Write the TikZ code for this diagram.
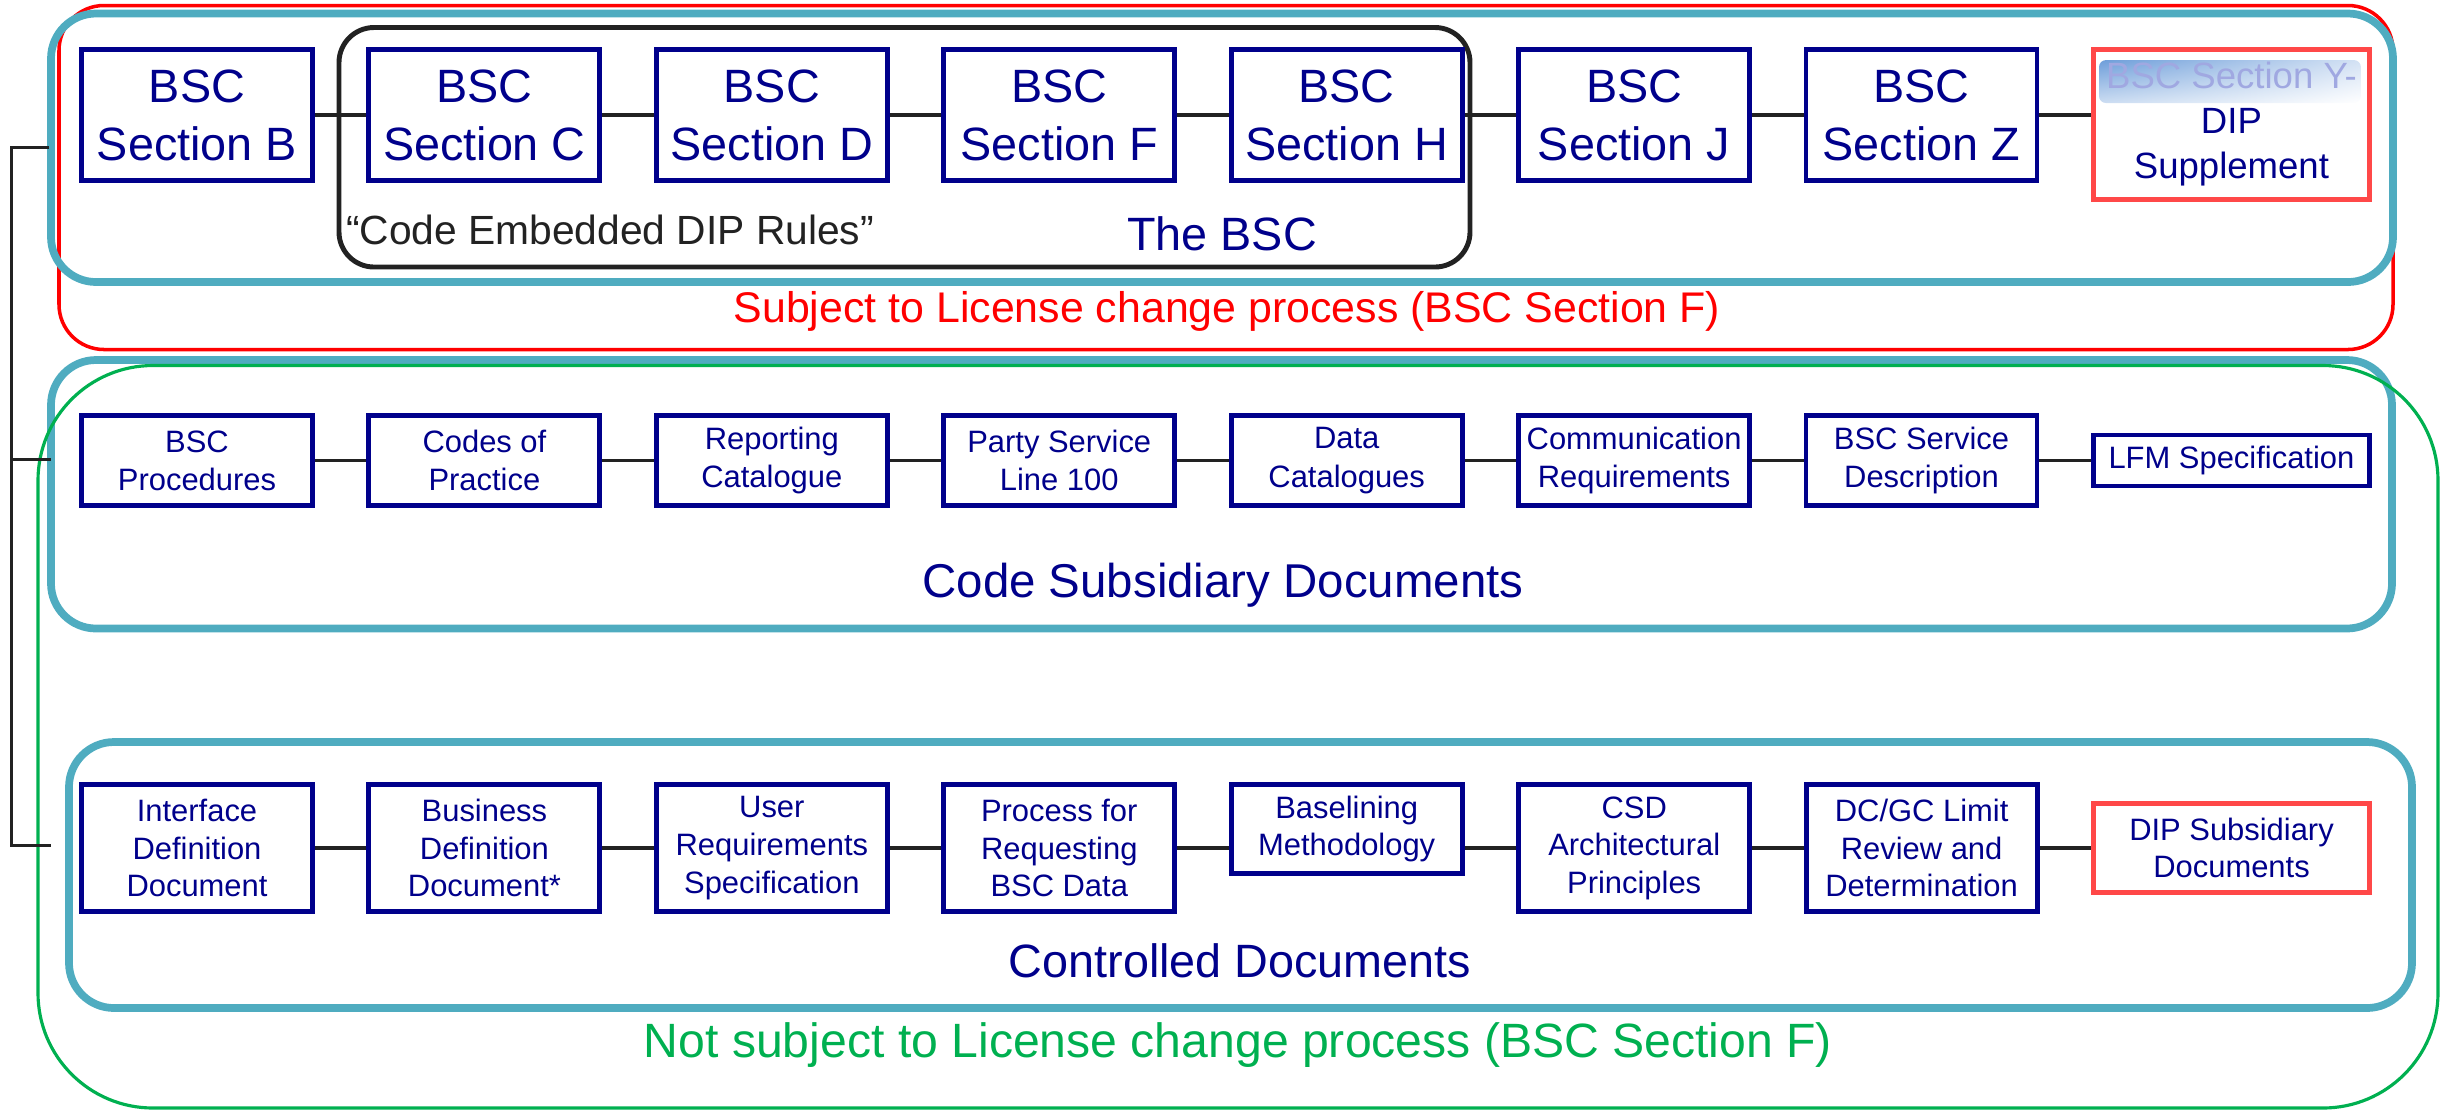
\documentclass[tikz,border=0pt]{standalone}
\usepackage{fontspec}
\setmainfont{Liberation Sans}
\usepackage{xcolor}
\usepackage{tikz}
\usetikzlibrary{positioning,backgrounds,shadings}

\definecolor{navy}{RGB}{0,0,139}
\definecolor{tealframe}{RGB}{79,172,192}
\definecolor{dipred}{RGB}{255,72,72}
\definecolor{okgreen}{RGB}{0,176,80}
\definecolor{darkline}{RGB}{34,34,34}
\definecolor{hiblue}{RGB}{110,158,218}
\definecolor{paleblue}{RGB}{160,168,225}

\begin{document}
\begin{tikzpicture}[
    docbox/.style={draw=navy, line width=1.4pt, text=navy, align=center,
        inner sep=0pt, minimum width=2.31cm},
    secbox/.style={docbox, minimum height=1.31cm, font=\fontsize{13.3}{16.5}\selectfont},
    csdbox/.style={docbox, minimum height=0.90cm, font=\fontsize{8.8}{10.9}\selectfont},
    ctrlbox/.style={docbox, minimum height=1.27cm, font=\fontsize{8.8}{10.7}\selectfont},
    dipbox/.style={draw=dipred, minimum width=2.76cm},
    link/.style={draw=darkline, line width=1.1pt},
    group/.style={draw=tealframe, line width=2.2pt, rounded corners=0.45cm},
    grouplabel/.style={text=navy, anchor=base, font=\fontsize{13.5}{16}\selectfont}
]

\useasboundingbox (0,0) rectangle (24.47,-11.10);

% ===========================
% TOP: the BSC sections
% ===========================

% Frames
\draw[draw=red, line width=1pt, rounded corners=0.45cm] (0.59,-0.055) rectangle (23.93,-3.495);
\draw[group] (0.51,-0.135) rectangle (23.93,-2.82);
\draw[draw=darkline, line width=1.4pt, rounded corners=0.35cm] (3.39,-0.275) rectangle (14.70,-2.67);

% Sections
\node[secbox] (secB) at (1.97,-1.15) {BSC\\Section B};
\node[secbox, right=0.515cm of secB] (secC) {BSC\\Section C};
\node[secbox, right=0.515cm of secC] (secD) {BSC\\Section D};
\node[secbox, right=0.515cm of secD] (secF) {BSC\\Section F};
\node[secbox, right=0.515cm of secF] (secH) {BSC\\Section H};
\node[secbox, right=0.515cm of secH] (secJ) {BSC\\Section J};
\node[secbox, right=0.515cm of secJ] (secZ) {BSC\\Section Z};
\node[secbox, dipbox, minimum height=1.50cm, font=\fontsize{10.4}{12.8}\selectfont,
      right=0.515cm of secZ.north east, anchor=north west] (secY)
      {\textcolor{paleblue}{BSC Section Y-}\\DIP\\Supplement};

% Connectors
\draw[link] (secB) -- (secC);
\draw[link] (secC) -- (secD);
\draw[link] (secD) -- (secF);
\draw[link] (secF) -- (secH);
\draw[link] (secH) -- (secJ);
\draw[link] (secJ) -- (secZ);
\draw[link] (secZ) -- (secZ -| secY.west);

% Highlight behind Section Y
\begin{scope}[on background layer]
    \shade[upper left=hiblue, upper right=hiblue!30, lower left=hiblue!35, lower right=white,
           rounded corners=2pt]
        ([shift={(0.08,-0.13)}]secY.north west) rectangle ([shift={(-0.11,-0.56)}]secY.north east);
\end{scope}

% Labels
\node[text=darkline, anchor=base, font=\fontsize{11.6}{14}\selectfont] (embedded) at (6.10,-2.44) {“Code Embedded DIP Rules”};
\node[grouplabel, font=\fontsize{13.3}{16}\selectfont] (thebsc) at (12.22,-2.50) {The BSC};
\node[text=red, anchor=base, font=\fontsize{12.2}{15}\selectfont] (subject) at (12.27,-3.22) {Subject to License change process (BSC Section F)};

% ===========================
% MIDDLE: Code Subsidiary Documents
% ===========================

\draw[group] (0.51,-3.60) rectangle (23.92,-6.285);

\node[csdbox] (proc) at (1.97,-4.605) {BSC\\Procedures};
\node[csdbox, right=0.515cm of proc] (cop) {Codes of\\Practice};
\node[csdbox, right=0.515cm of cop] (repcat) {Reporting\\Catalogue};
\node[csdbox, right=0.515cm of repcat] (psl) {Party Service\\Line 100};
\node[csdbox, right=0.515cm of psl] (datacat) {Data\\Catalogues};
\node[csdbox, right=0.515cm of datacat] (commreq) {Communication\\Requirements};
\node[csdbox, right=0.515cm of commreq] (bsd) {BSC Service\\Description};
\node[csdbox, minimum width=2.76cm, minimum height=0.51cm, right=0.515cm of bsd] (lfm) {LFM Specification};

\draw[link] (proc) -- (cop);
\draw[link] (cop) -- (repcat);
\draw[link] (repcat) -- (psl);
\draw[link] (psl) -- (datacat);
\draw[link] (datacat) -- (commreq);
\draw[link] (commreq) -- (bsd);
\draw[link] (bsd) -- (lfm);

\node[grouplabel] (csdlabel) at (12.23,-5.97) {Code Subsidiary Documents};

% ===========================
% BOTTOM: Controlled Documents
% ===========================

\draw[group] (0.69,-7.42) rectangle (24.12,-10.08);

\node[ctrlbox] (idd) at (1.97,-8.48) {Interface\\Definition\\Document};
\node[ctrlbox, right=0.515cm of idd] (bdd) {Business\\Definition\\Document*};
\node[ctrlbox, right=0.515cm of bdd] (urs) {User\\Requirements\\Specification};
\node[ctrlbox, right=0.515cm of urs] (prbd) {Process for\\Requesting\\BSC Data};
\node[ctrlbox, minimum height=0.89cm, right=0.515cm of prbd.north east, anchor=north west] (base) {Baselining\\Methodology};
\node[ctrlbox, right=0.515cm of prbd, xshift=2.875cm] (csd) {CSD\\Architectural\\Principles};
\node[ctrlbox, right=0.515cm of csd] (dcgc) {DC/GC Limit\\Review and\\Determination};
\node[ctrlbox, dipbox, minimum height=0.89cm, right=0.515cm of dcgc] (dipsub) {DIP Subsidiary\\Documents};

\draw[link] (idd) -- (bdd);
\draw[link] (bdd) -- (urs);
\draw[link] (urs) -- (prbd);
\draw[link] (prbd) -- (prbd -| base.west);
\draw[link] (csd -| base.east) -- (csd);
\draw[link] (csd) -- (dcgc);
\draw[link] (dcgc) -- (dipsub);

\node[grouplabel, font=\fontsize{13.3}{16}\selectfont] (ctrllabel) at (12.40,-9.77) {Controlled Documents};

% Not subject frame
\draw[draw=okgreen, line width=0.9pt, rounded corners=1.15cm] (0.38,-3.655) rectangle (24.38,-11.08);
\node[text=okgreen, anchor=base, font=\fontsize{13.7}{16}\selectfont] (notsubject) at (12.38,-10.57) {Not subject to License change process (BSC Section F)};

% ===========================
% Left bracket
% ===========================
\coordinate (spine) at (0.115,0);
\coordinate (s1) at (0.49,-1.475);
\coordinate (s2) at (0.51,-4.595);
\coordinate (s3) at (0.51,-8.455);
\draw[link] (s1) -- (s1 -| spine) -- (s3 -| spine) -- (s3);
\draw[link] (s2) -- (s2 -| spine);

\end{tikzpicture}
\end{document}
